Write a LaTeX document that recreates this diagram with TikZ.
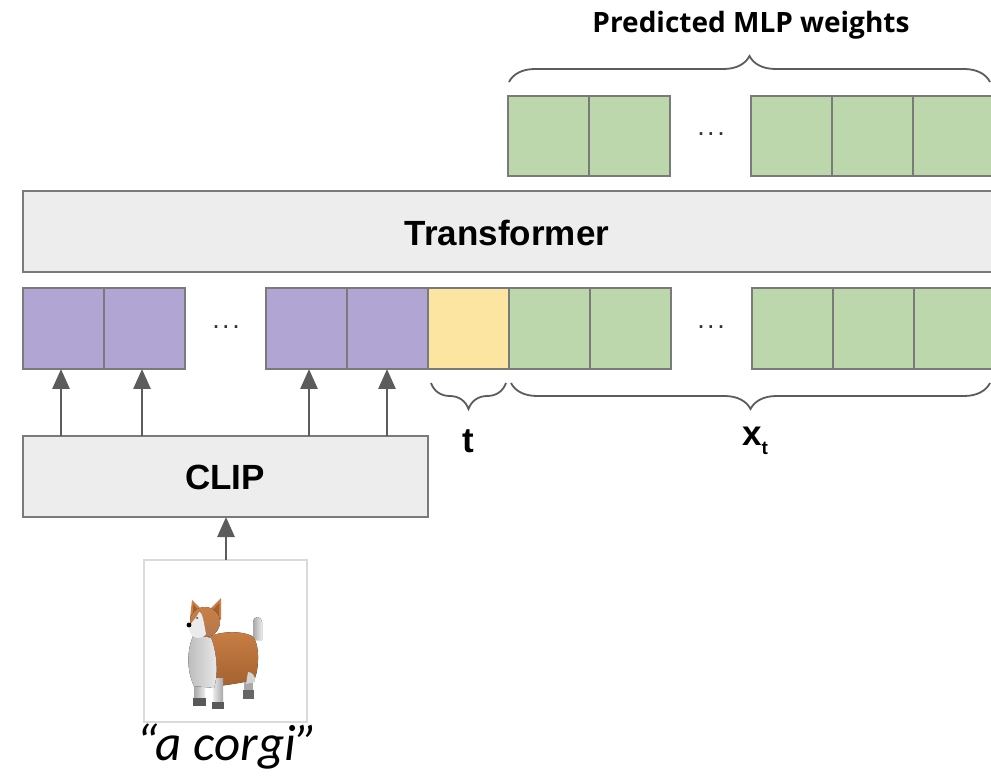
\documentclass[tikz,border=0pt]{standalone}
\usepackage{fontspec}
\setmainfont{Liberation Sans}
\newfontfamily\headfont{Open Sans}
\newfontfamily\quotefont{Carlito}
\usetikzlibrary{decorations.pathreplacing,arrows.meta}

\definecolor{tokpurple}{HTML}{B1A6D3}
\definecolor{tokyellow}{HTML}{FCE5A1}
\definecolor{tokgreen}{HTML}{BDD7AD}
\definecolor{boxgray}{HTML}{EDEDED}
\definecolor{edgegray}{HTML}{7A7A7A}
\definecolor{arrowgray}{HTML}{5C5C5C}
\definecolor{framegray}{HTML}{DADADA}
\definecolor{furorange}{HTML}{C97F45}
\definecolor{furdark}{HTML}{A3612F}
\definecolor{furwhite}{HTML}{EBEBEB}
\definecolor{furgray}{HTML}{A8A8A8}

\begin{document}
\begin{tikzpicture}[x=1pt,y=-1pt,
  cell/.style={draw=edgegray, line width=1.3pt, minimum width=81pt,
    inner sep=0pt, outer sep=0pt, anchor=north west},
  tokrow/.style={cell, minimum height=81pt},
  outrow/.style={cell, minimum height=80pt},
  block/.style={draw=edgegray, fill=boxgray, line width=1.5pt,
    inner sep=0pt, outer sep=0pt, anchor=north west},
  feed/.style={draw=arrowgray, line width=2.8pt,
    -{Triangle[length=20pt,width=17pt]}},
  curly/.style={draw=arrowgray, line width=1.8pt,
    decorate, decoration={brace, amplitude=26pt}},
  ellip/.style={text=black!80, font=\fontsize{27}{27}\selectfont},
  bold/.style={font=\fontsize{35}{35}\selectfont\bfseries},
]
\useasboundingbox (0,0) rectangle (991,783);

% transformer and CLIP blocks
\node[block, minimum width=973pt, minimum height=81pt] (trans) at (23,191) {};
\node[bold] (translbl) at (507,233) {Transformer};
\node[block, minimum width=405pt, minimum height=81pt] (clip) at (23,436) {};
\node[bold] (cliplbl) at (225,477) {CLIP};

% predicted weight tokens
\node[outrow, fill=tokgreen] (w1) at (508,96) {};
\node[outrow, fill=tokgreen] (w2) at (589,96) {};
\node[ellip] (wdots) at (711,134) {.\hspace{2.5pt}.\hspace{2.5pt}.};
\node[outrow, fill=tokgreen] (w3) at (751,96) {};
\node[outrow, fill=tokgreen] (w4) at (832,96) {};
\node[outrow, fill=tokgreen] (w5) at (913,96) {};

% input token sequence
\node[tokrow, fill=tokpurple] (p1) at (23,288) {};
\node[tokrow, fill=tokpurple] (p2) at (104,288) {};
\node[ellip] (pdots) at (226,327) {.\hspace{2.5pt}.\hspace{2.5pt}.};
\node[tokrow, fill=tokpurple] (p3) at (266,288) {};
\node[tokrow, fill=tokpurple] (p4) at (347,288) {};
\node[tokrow, fill=tokyellow] (ty) at (428,288) {};
\node[tokrow, fill=tokgreen] (x1) at (509,288) {};
\node[tokrow, fill=tokgreen] (x2) at (590,288) {};
\node[ellip] (xdots) at (711,327) {.\hspace{2.5pt}.\hspace{2.5pt}.};
\node[tokrow, fill=tokgreen] (x3) at (752,288) {};
\node[tokrow, fill=tokgreen] (x4) at (833,288) {};
\node[tokrow, fill=tokgreen] (x5) at (914,288) {};

% CLIP embeddings feed the first tokens
\foreach \p/\x in {p1/61, p2/142, p3/309, p4/387}
  \draw[feed] (clip.north -| \x,0) -- (\p.south -| \x,0);

% braces and labels
\coordinate (wbl) at (509,82);
\coordinate (wbr) at (990,82);
\draw[curly] (wbl) -- (wbr);
\node[font=\headfont\fontsize{28}{28}\selectfont\bfseries] (wlbl) at (751,25) {Predicted MLP weights};

\coordinate (tbl) at (431,383);
\coordinate (tbr) at (506,383);
\draw[curly, decoration={brace, amplitude=26pt, mirror}] (tbl) -- (tbr);
\node[bold] (tlbl) at (468,441) {t};

\coordinate (xbl) at (511,383);
\coordinate (xbr) at (990,383);
\draw[curly, decoration={brace, amplitude=26pt, mirror}] (xbl) -- (xbr);
\node[bold] (xlbl) at (755,441) {x\raisebox{-9pt}{\fontsize{19}{19}\selectfont t}};

% input image
\node[draw=framegray, line width=1.2pt, minimum width=163pt, minimum height=162pt,
  inner sep=0pt, outer sep=0pt, anchor=north west] (img) at (144,560) {};
\draw[feed] (img.north -| 226,0) -- (clip.south -| 226,0);

% corgi
\begin{scope}
  % far hind leg
  \fill[furgray] (244,668) rectangle (253,694);
  \fill[black!60] (243,690) rectangle (254,699);
  % tail
  \fill[left color=furgray, right color=furwhite] (253,640) -- (253,622)
    arc[start angle=180, end angle=0, x radius=4.5pt, y radius=5pt] -- (262,640) -- cycle;
  % body
  \fill[top color=furorange, bottom color=furdark]
    (204,640) .. controls (215,631) and (240,630) .. (252,636)
    .. controls (260,642) and (259,668) .. (255,678)
    .. controls (245,684) and (225,684) .. (210,688) -- cycle;
  % rear white patch
  \fill[furwhite!90!black] (248,672) .. controls (252,672) and (256,676) .. (255,682)
    -- (246,684) -- cycle;
  % front legs
  \fill[left color=furgray, right color=furwhite] (194,674) rectangle (205,701);
  \fill[black!65] (193,698) rectangle (206,706);
  \fill[left color=furwhite, right color=furgray] (213,678) rectangle (223,705);
  \fill[black!65] (212,702) rectangle (224,709);
  % chest
  \fill[left color=furgray!80, right color=furwhite]
    (194,634) .. controls (186,650) and (187,672) .. (194,686)
    -- (214,688) .. controls (219,672) and (216,650) .. (211,638) -- cycle;
  % ears
  \fill[furorange] (190,618) -- (192,600) -- (204,612) -- cycle;
  \fill[furdark] (193,614) -- (193,604) -- (200,612) -- cycle;
  \fill[furorange] (208,611) -- (221,598) -- (221,620) -- cycle;
  \fill[furdark] (212,611) -- (219,603) -- (219,615) -- cycle;
  % head
  \fill[top color=furorange, bottom color=furdark!85]
    (205,622) ellipse[x radius=15pt, y radius=15pt];
  % face blaze and muzzle
  \fill[furwhite] (199,612) .. controls (203,612) and (204,625) .. (206,634)
    .. controls (202,640) and (192,640) .. (189,630)
    .. controls (188,624) and (196,620) .. (199,612) -- cycle;
  \fill[black] (189,625) circle[radius=2.4pt];
  \fill[black!80] (197,618) circle[radius=1pt];
\end{scope}

\node[font=\quotefont\itshape\fontsize{51}{51}\selectfont] (caption) at (227,747) {“a corgi”};
\end{tikzpicture}
\end{document}
